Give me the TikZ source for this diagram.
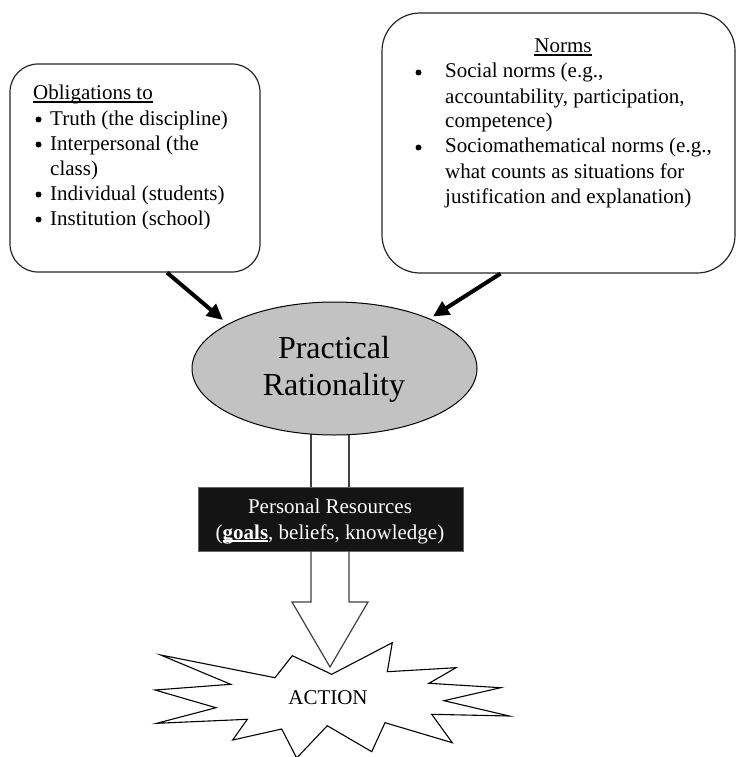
\documentclass[tikz,border=0pt]{standalone}
\usepackage{fontspec}
\setmainfont{Liberation Serif}
\usetikzlibrary{arrows.meta,calc,backgrounds,shapes.geometric}
\newcommand\myul[1]{\leavevmode\setbox0\hbox{#1}\rlap{\rule[-2.6pt]{\wd0}{1.3pt}}\box0}
\newcommand\bodyfont{\fontsize{21}{25}\selectfont}
\begin{document}
\begin{tikzpicture}[x=1pt,y=-1pt,
  txt/.style={anchor=base west,inner sep=0pt,font=\bodyfont},
  bul/.style={circle,fill=black,inner sep=0pt,minimum size=6pt},
  frame/.style={draw=black!85,line width=1.2pt,rounded corners=#1},
  thickarrow/.style={line width=4pt,-{Triangle[length=16pt,width=15pt]}},
  shaft/.style={draw=black!75,line width=1.2pt}]
\useasboundingbox (0,0) rectangle (737,757);

% left box
\node[frame=28pt,minimum width=250pt,minimum height=208pt,inner sep=0pt] (obl) at (135,168) {};
\node[txt] (o0) at (33,100) {\myul{Obligations to}};
\node[bul] (ob1) at (38.5,119.5) {};
\node[txt] (o1) at (50,125) {Truth (the discipline)};
\node[bul] (ob2) at (38.5,144.5) {};
\node[txt] (o2) at (50,150) {Interpersonal (the};
\node[txt] (o3) at (50,175) {class)};
\node[bul] (ob4) at (38.5,194.5) {};
\node[txt] (o4) at (50,200) {Individual (students)};
\node[bul] (ob5) at (38.5,219.5) {};
\node[txt] (o5) at (50,225) {Institution (school)};

% right box
\node[frame=38pt,minimum width=353pt,minimum height=260pt,inner sep=0pt] (nrm) at (558.5,143) {};
\node[anchor=base,inner sep=0pt,font=\bodyfont] (n0) at (563,53) {\myul{Norms}};
\node[bul] (nb1) at (418.5,72.5) {};
\node[txt] (n1) at (445,78) {Social norms (e.g.,};
\node[txt] (n2) at (445,103) {accountability, participation,};
\node[txt] (n3) at (445,128) {competence)};
\node[bul] (nb4) at (418.5,147.5) {};
\node[txt] (n4) at (445,153) {Sociomathematical norms (e.g.,};
\node[txt] (n5) at (445,178) {what counts as situations for};
\node[txt] (n6) at (445,203) {justification and explanation)};

% ellipse
\node[ellipse,draw=black,line width=1pt,fill=black!24,minimum width=285pt,minimum height=133pt,inner sep=0pt] (pr) at (334.5,368.5) {};
\node[anchor=base,inner sep=0pt,font=\fontsize{32}{37}\selectfont] (pr1) at (334,358) {Practical};
\node[anchor=base,inner sep=0pt,font=\fontsize{32}{37}\selectfont] (pr2) at (334,395) {Rationality};

% arrows into ellipse
\draw[thickarrow] ($(obl.south)+(32,0)$) -- ($(pr.center)+(-111.5,-48.5)$);
\draw[thickarrow] ($(nrm.south)+(-58,0)$) -- ($(pr.center)+(98.5,-52)$);

% personal resources box
\node[fill=black!92,draw=black!60,line width=0.8pt,minimum width=265pt,minimum height=64pt,inner sep=0pt] (res) at (330.5,519) {};
\node[anchor=base,inner sep=0pt,font=\bodyfont,text=white] (r1) at (330,513) {Personal Resources};
\node[anchor=base,inner sep=0pt,font=\bodyfont,text=white] (r2) at (330,539) {(\myul{\textbf{goals}}, beliefs, knowledge)};

\begin{pgfonlayer}{background}
\draw[shaft] (pr.center -| 311,0) -- (res.north -| 311,0);
\draw[shaft] (pr.center -| 349,0) -- (res.north -| 349,0);
\end{pgfonlayer}

% block arrow down
\coordinate (tip) at (330,667);
\draw[shaft,line join=miter] (res.south -| 311,0) -- (311,602) -- (292,602) -- (tip) -- (368,602) -- (349,602) -- (res.south -| 349,0);

% starburst
\draw[line width=1.1pt,line join=miter,fill=white]
 (331.7,674.3) -- (392.3,642.7) -- (387.3,671.7) -- (456,667.7) -- (429,683.3)
 -- (500.7,687.7) -- (444,700.7) -- (509.3,716) -- (431.7,714.3) -- (452.3,742.7)
 -- (385,722.7) -- (371.7,751.7) -- (327.3,725.7) -- (296.7,758) -- (281.7,729)
 -- (232.7,740) -- (247.3,719.3) -- (156.7,723.3) -- (216,707.7) -- (155,690)
 -- (230.7,684.3) -- (160.7,655) -- (275,677.7) -- (292.3,655.7) -- cycle;
\node[anchor=base,inner sep=0pt,font=\bodyfont] (act) at (328,704) {ACTION};
\end{tikzpicture}
\end{document}
